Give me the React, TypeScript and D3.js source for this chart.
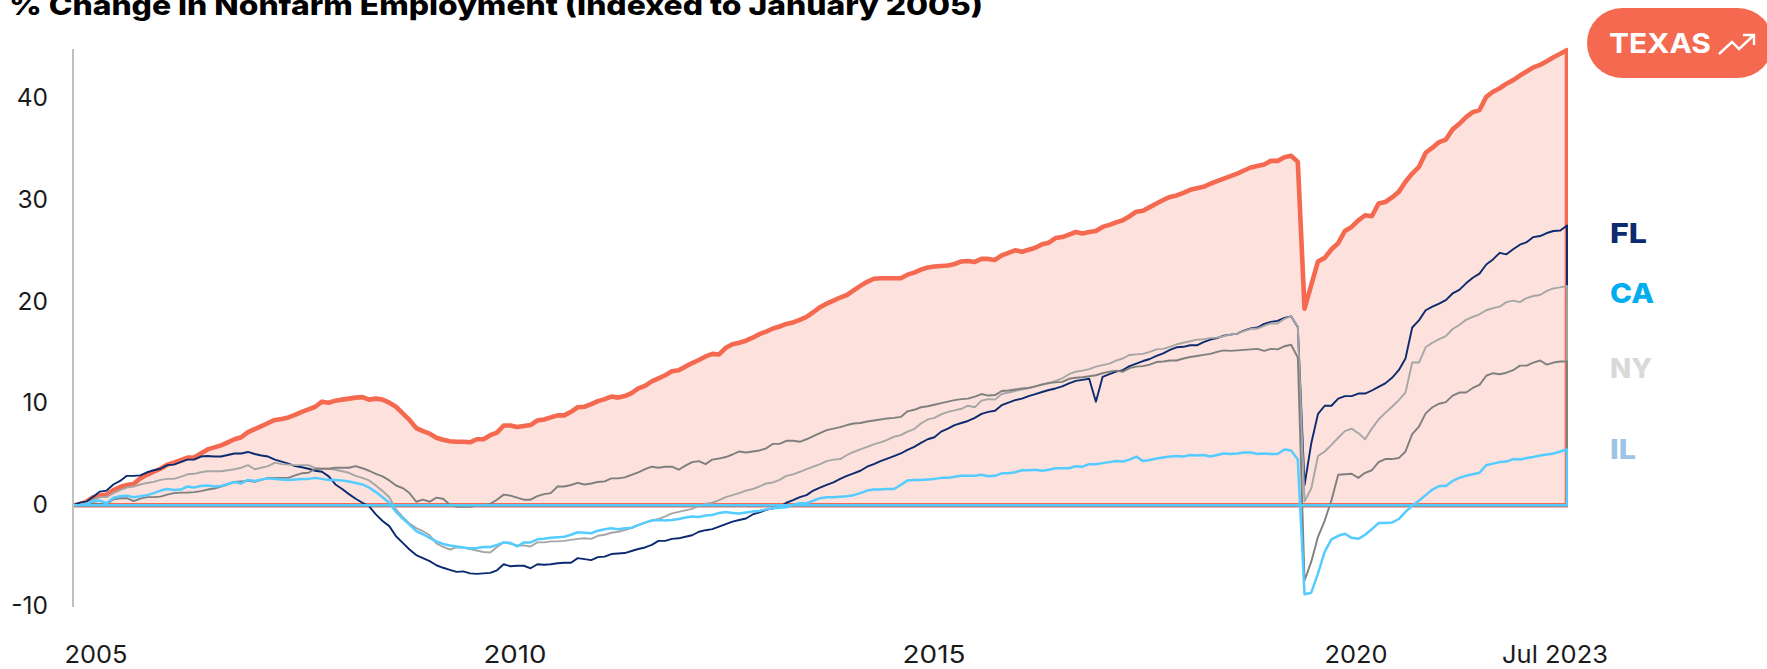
import React from "react";
import * as d3 from "d3";

const titleText = "% Change in Nonfarm Employment (Indexed to January 2005)";
const yTicks = [-10, 0, 10, 20, 30, 40];
const xLabels = ["2005", "2010", "2015", "2020", "Jul 2023"];

// Monthly values, January 2005 to July 2023, one row per year.
const texas = [
  0, 0.1, 0.35, 0.8, 0.95, 1.05, 1.5, 1.8, 2, 2.1, 2.65, 3,
  3.3, 3.6, 4, 4.2, 4.45, 4.7, 4.7, 5.1, 5.5, 5.7, 5.9, 6.2,
  6.5, 6.7, 7.2, 7.5, 7.8, 8.1, 8.4, 8.5, 8.65, 8.9, 9.2, 9.45,
  9.7, 10.2, 10.1, 10.3, 10.4, 10.5, 10.6, 10.65, 10.4, 10.5, 10.4, 10.1,
  9.7, 9.05, 8.4, 7.6, 7.3, 7.05, 6.65, 6.45, 6.3, 6.25, 6.25, 6.2,
  6.5, 6.5, 6.9, 7.15, 7.85, 7.85, 7.7, 7.8, 7.9, 8.35, 8.45, 8.65,
  8.85, 8.85, 9.2, 9.65, 9.7, 9.95, 10.25, 10.45, 10.7, 10.6, 10.75, 11.05,
  11.5, 11.75, 12.2, 12.5, 12.8, 13.2, 13.3, 13.65, 14, 14.3, 14.65, 14.9,
  14.85, 15.5, 15.85, 16, 16.2, 16.5, 16.85, 17.1, 17.4, 17.6, 17.85, 18,
  18.25, 18.55, 19, 19.5, 19.85, 20.15, 20.45, 20.7, 21.15, 21.6, 22, 22.3,
  22.35, 22.35, 22.35, 22.35, 22.7, 22.9, 23.2, 23.4, 23.5, 23.55, 23.6, 23.75,
  24, 24.05, 23.95, 24.25, 24.25, 24.15, 24.6, 24.85, 25.1, 24.95, 25.15, 25.35,
  25.7, 25.85, 26.3, 26.4, 26.65, 26.9, 26.75, 26.9, 27, 27.4, 27.6, 27.85,
  28.05, 28.45, 28.9, 29, 29.35, 29.7, 30.05, 30.35, 30.5, 30.75, 31.05, 31.2,
  31.35, 31.65, 31.9, 32.15, 32.4, 32.65, 32.95, 33.25, 33.4, 33.55, 33.9, 33.9,
  34.25, 34.4, 33.8, 19.35, 21.7, 24, 24.35, 25.2, 25.8, 27, 27.4, 28.05,
  28.55, 28.45, 29.7, 29.85, 30.3, 30.85, 31.85, 32.65, 33.3, 34.7, 35.2, 35.75,
  36, 37, 37.55, 38.2, 38.7, 38.9, 40.2, 40.7, 41.05, 41.5, 41.85, 42.3,
  42.7, 43.1, 43.35, 43.7, 44.1, 44.45, 44.8,
];

const florida = [
  0, 0.25, 0.35, 0.85, 1.35, 1.45, 2.05, 2.4, 2.9, 2.9, 2.95, 3.25,
  3.45, 3.6, 3.95, 4, 4.25, 4.5, 4.5, 4.8, 4.85, 4.8, 4.8, 4.95,
  5.1, 5.1, 5.25, 5.05, 4.9, 4.8, 4.5, 4.3, 4.1, 3.85, 3.75, 3.6,
  3.4, 3.3, 2.85, 2.05, 1.6, 1.1, 0.65, 0.25, -0.1, -0.9, -1.55, -2.05,
  -3.05, -3.7, -4.35, -4.9, -5.2, -5.5, -5.9, -6.15, -6.35, -6.55, -6.5, -6.7,
  -6.75, -6.7, -6.65, -6.4, -5.8, -6, -5.95, -5.95, -6.2, -5.8, -5.85, -5.8,
  -5.7, -5.65, -5.65, -5.2, -5.3, -5.4, -5.1, -5.05, -4.8, -4.75, -4.7, -4.5,
  -4.3, -4.15, -3.9, -3.5, -3.5, -3.3, -3.25, -3.1, -2.95, -2.6, -2.45, -2.35,
  -2.1, -1.85, -1.6, -1.45, -1.3, -0.9, -0.7, -0.45, -0.3, -0.15, 0.25, 0.5,
  0.8, 1, 1.45, 1.75, 2, 2.25, 2.6, 2.9, 3.15, 3.4, 3.8, 4.05,
  4.35, 4.6, 4.85, 5.1, 5.45, 5.75, 6.15, 6.5, 6.7, 7.25, 7.55, 7.9,
  8.1, 8.3, 8.6, 9, 9.2, 9.3, 9.85, 10.1, 10.35, 10.5, 10.75, 10.95,
  11.15, 11.35, 11.5, 11.7, 12, 12.25, 12.35, 12.45, 10.2, 12.65, 12.9, 13.15,
  13.3, 13.7, 13.95, 14.2, 14.4, 14.7, 14.95, 15.3, 15.55, 15.6, 15.75, 15.75,
  16.05, 16.3, 16.45, 16.7, 16.8, 16.9, 17.2, 17.4, 17.5, 17.85, 18.05, 18.15,
  18.45, 18.6, 17.55, 2, 6.1, 9, 9.8, 9.8, 10.5, 10.75, 10.75, 11,
  11, 11.3, 11.65, 12, 12.55, 13.3, 14.45, 17.5, 18.2, 19.2, 19.55, 19.85,
  20.2, 20.85, 21.2, 21.85, 22.4, 22.8, 23.7, 24.2, 24.85, 24.7, 25.2, 25.65,
  25.9, 26.4, 26.5, 26.8, 27, 27.05, 27.55,
];

const california = [
  0, 0.05, 0.2, 0.5, 0.8, 0.8, 1.2, 1.5, 1.75, 1.85, 2.05, 2.2,
  2.3, 2.5, 2.6, 2.6, 2.8, 3.05, 3.1, 3.25, 3.35, 3.35, 3.35, 3.45,
  3.55, 3.7, 3.95, 3.55, 3.7, 3.85, 4.2, 4.05, 4, 3.95, 3.95, 3.95,
  3.65, 3.6, 3.6, 3.5, 3.35, 3.2, 2.9, 2.7, 2.45, 1.95, 1.4, 0.8,
  -0.4, -1.15, -1.8, -2.25, -2.55, -2.95, -3.75, -4.1, -4.35, -4.15, -4.15, -4.3,
  -4.45, -4.6, -4.65, -4.1, -3.65, -3.8, -3.95, -3.95, -4.05, -3.65, -3.65, -3.55,
  -3.55, -3.5, -3.4, -3.3, -3.25, -3.3, -3, -2.9, -2.7, -2.6, -2.45, -2.25,
  -1.95, -1.7, -1.5, -1.35, -1.1, -0.8, -0.65, -0.5, -0.35, -0.05, 0.15, 0.25,
  0.5, 0.8, 1, 1.2, 1.45, 1.6, 1.85, 2.15, 2.25, 2.5, 2.9, 3.05,
  3.3, 3.55, 3.8, 4.05, 4.35, 4.5, 4.55, 4.95, 5.25, 5.5, 5.75, 6,
  6.2, 6.45, 6.75, 6.9, 7.25, 7.5, 8.05, 8.45, 8.6, 8.95, 9.2, 9.35,
  9.5, 9.8, 9.65, 10.3, 10.45, 10.4, 10.95, 11.1, 11.25, 11.4, 11.55, 11.7,
  11.85, 12, 12.25, 12.5, 12.9, 13.15, 13.25, 13.4, 13.65, 13.8, 13.95, 14.25,
  14.45, 14.8, 14.85, 14.9, 15.1, 15.35, 15.4, 15.6, 15.85, 16, 16.15, 16.3,
  16.35, 16.45, 16.5, 16.65, 16.8, 16.9, 17.15, 17.35, 17.4, 17.65, 17.9, 17.9,
  18.35, 18.6, 17.6, 0.4, 1.65, 4.85, 5.3, 5.95, 6.65, 7.3, 7.55, 7.1,
  6.5, 7.55, 8.45, 9.1, 9.7, 10.35, 11.1, 14.05, 14.05, 15.55, 16, 16.35,
  16.65, 17.35, 17.75, 18.25, 18.55, 18.8, 19.2, 19.4, 19.55, 20, 20.15, 20,
  20.4, 20.6, 20.7, 21.1, 21.35, 21.45, 21.6,
];

const newYork = [
  0, 0, 0.05, 0.2, 0.1, 0.1, 0.6, 0.7, 0.7, 0.4, 0.65, 0.8,
  0.8, 0.85, 1.05, 1.2, 1.25, 1.25, 1.3, 1.4, 1.55, 1.65, 1.85, 2.05,
  2.3, 2.35, 2.4, 2.3, 2.5, 2.7, 2.7, 2.7, 2.7, 2.95, 3.15, 3.2,
  3.6, 3.6, 3.6, 3.7, 3.7, 3.7, 3.85, 3.65, 3.4, 3.1, 2.85, 2.45,
  1.95, 1.7, 1.2, 0.35, 0.55, 0.35, 0.75, 0.65, 0.05, -0.15, -0.15, -0.15,
  -0.05, -0.05, 0.15, 0.55, 1.05, 0.95, 0.75, 0.55, 0.55, 0.9, 1.1, 1.2,
  1.85, 1.85, 2, 2.2, 2.05, 2.15, 2.3, 2.35, 2.65, 2.65, 2.75, 3,
  3.25, 3.55, 3.8, 3.7, 3.8, 3.8, 3.5, 3.9, 4.25, 4.35, 4.05, 4.5,
  4.6, 4.75, 5, 5.3, 5.2, 5.3, 5.4, 5.6, 6.05, 6.05, 6.35, 6.35,
  6.25, 6.5, 6.8, 7.1, 7.4, 7.55, 7.7, 7.9, 8.05, 8.1, 8.25, 8.35,
  8.45, 8.55, 8.6, 8.7, 9.25, 9.4, 9.65, 9.75, 9.9, 10.05, 10.2, 10.35,
  10.45, 10.5, 10.7, 10.95, 10.8, 10.85, 11.25, 11.3, 11.4, 11.5, 11.55, 11.7,
  11.9, 12.05, 12.1, 12.15, 12.45, 12.55, 12.6, 12.7, 12.8, 13, 13.15, 13.25,
  13.15, 13.5, 13.65, 13.7, 13.85, 14.1, 14.15, 14.25, 14.25, 14.45, 14.6, 14.7,
  14.8, 14.9, 15.1, 15.25, 15.2, 15.25, 15.3, 15.35, 15.4, 15.2, 15.4, 15.35,
  15.65, 15.8, 14.55, -7.4, -5.55, -3.1, -1.5, 0.5, 3, 3.05, 3.1, 2.7,
  3.2, 3.45, 4.25, 4.55, 4.55, 4.65, 5.3, 7, 7.75, 9.05, 9.65, 10,
  10.15, 10.8, 11.1, 11.1, 11.55, 11.85, 12.75, 13, 12.9, 13.05, 13.3, 13.75,
  13.75, 14.05, 14.25, 13.85, 14.05, 14.15, 14.15,
];

const illinois = [
  0, 0, 0.1, 0.45, 0.45, 0.2, 0.75, 0.9, 0.95, 0.8, 0.9, 1,
  1.2, 1.45, 1.6, 1.5, 1.55, 1.85, 1.75, 1.9, 1.95, 1.85, 1.9, 2.1,
  2.3, 2.15, 2.5, 2.4, 2.55, 2.65, 2.6, 2.55, 2.5, 2.55, 2.6, 2.6,
  2.7, 2.6, 2.5, 2.5, 2.45, 2.35, 2.2, 2.05, 1.75, 1.3, 0.8, 0.25,
  -0.65, -1.3, -1.9, -2.55, -2.85, -3.2, -3.55, -3.8, -3.95, -4.05, -4.15, -4.25,
  -4.2, -4.1, -4.1, -3.9, -3.65, -3.7, -4.05, -3.65, -3.65, -3.35, -3.3, -3.2,
  -3.15, -3.1, -2.9, -2.65, -2.7, -2.75, -2.5, -2.35, -2.25, -2.35, -2.25, -2.2,
  -1.95, -1.7, -1.5, -1.45, -1.5, -1.45, -1.35, -1.2, -1.1, -1.15, -1, -0.95,
  -0.75, -0.65, -0.75, -0.8, -0.7, -0.6, -0.55, -0.4, -0.3, -0.25, -0.2, 0.05,
  0.2, 0.2, 0.45, 0.7, 0.8, 0.8, 0.85, 0.9, 1, 1.2, 1.45, 1.55,
  1.55, 1.6, 1.6, 2, 2.45, 2.5, 2.5, 2.55, 2.6, 2.7, 2.7, 2.8,
  2.9, 2.9, 2.9, 3, 2.85, 2.9, 3.15, 3.15, 3.25, 3.45, 3.45, 3.5,
  3.4, 3.5, 3.65, 3.65, 3.65, 3.85, 3.8, 4.05, 4.05, 4.15, 4.25, 4.35,
  4.3, 4.5, 4.8, 4.35, 4.45, 4.6, 4.7, 4.8, 4.85, 4.8, 4.95, 4.9,
  4.95, 4.8, 4.95, 5.1, 5.05, 5.1, 5.2, 5.2, 5.05, 5.1, 5.05, 5.05,
  5.5, 5.4, 4.5, -8.75, -8.6, -6.7, -4.55, -3.35, -3, -2.8, -3.2, -3.3,
  -2.9, -2.35, -1.75, -1.75, -1.7, -1.35, -0.65, -0.05, 0.45, 1, 1.55, 1.9,
  1.9, 2.4, 2.7, 2.9, 3.05, 3.2, 3.95, 4.1, 4.25, 4.3, 4.55, 4.5,
  4.65, 4.75, 4.9, 5, 5.1, 5.3, 5.5,
];

const sideLabels = ["FL", "CA", "NY", "IL"];
const badgeText = "TEXAS";

export default function App() {
  const W = 1767;
  const H = 669;
  const font = "Inter, 'Open Sans', sans-serif";

  const x = d3.scaleLinear().domain([0, 222]).range([73, 1567]);
  const y = d3.scaleLinear().domain([-10, 45]).range([606.9, 48.1]);

  const area = d3
    .area<number>()
    .x((_, i) => x(i))
    .y0(y(0))
    .y1((d) => y(d));

  const series = [
    { key: "TX", values: texas, stroke: "#F4694F", width: 4.6, fill: "#FCE1DC" },
    { key: "FL", values: florida, stroke: "#0B2A6F", width: 1.9, fill: "none" },
    { key: "CA", values: california, stroke: "#A6A6A6", width: 1.9, fill: "none" },
    { key: "NY", values: newYork, stroke: "#7F7F7F", width: 1.9, fill: "none" },
    { key: "IL", values: illinois, stroke: "#55CCFF", width: 2.5, fill: "none" },
  ];

  const xLabelCenters = [96, 515, 934, 1356, 1555];
  const xLabelWidths = [63, 63, 63, 63, 106];
  const sideStyles = [
    { color: "#0B2A6F", y: 243, w: 37 },
    { color: "#00AEEF", y: 303, w: 44 },
    { color: "#D9D9D9", y: 378, w: 42 },
    { color: "#9DC3E6", y: 459, w: 26 },
  ];

  return (
    <svg
      width={W}
      height={H}
      viewBox={`0 0 ${W} ${H}`}
      style={{ position: "absolute", left: 0, top: 0, background: "#fff" }}
    >
      <defs>
        <clipPath id="plot-clip">
          <rect x={73} y={40} width={1495} height={580} />
        </clipPath>
      </defs>
      <text
        x={9}
        y={15}
        fontFamily={font}
        fontWeight={800}
        fontSize={27}
        fill="#000"
        textLength={974}
        lengthAdjust="spacingAndGlyphs"
      >
        {titleText}
      </text>

      {yTicks.map((t) => (
        <text
          key={t}
          x={48}
          y={y(t) + 7.5}
          textAnchor="end"
          fontFamily={font}
          fontSize={24.5}
          fill="#1a1a1a"
        >
          {t}
        </text>
      ))}

      <g clipPath="url(#plot-clip)">
        {series.map((s) => (
          <path
            key={s.key}
            d={area(s.values) ?? ""}
            fill={s.fill}
            stroke={s.stroke}
            strokeWidth={s.width}
            strokeLinejoin="round"
          />
        ))}
      </g>

      <line x1={73} x2={73} y1={49} y2={607} stroke="#BFBFBF" strokeWidth={2} />

      {xLabels.map((l, i) => (
        <text
          key={l}
          x={xLabelCenters[i]}
          y={663}
          textAnchor="middle"
          fontFamily={font}
          fontSize={24.5}
          fill="#1a1a1a"
          textLength={xLabelWidths[i]}
          lengthAdjust="spacingAndGlyphs"
        >
          {l}
        </text>
      ))}

      <rect x={1587} y={8} width={186} height={70} rx={35} ry={35} fill="#F4694F" />
      <text
        x={1609}
        y={53}
        fontFamily={font}
        fontWeight={700}
        fontSize={27.5}
        fill="#fff"
        textLength={102}
        lengthAdjust="spacingAndGlyphs"
      >
        {badgeText}
      </text>
      <path
        d="M1719 54 L1732 42 L1739 49 L1754 35 M1743 35 L1754 35 L1754 45"
        fill="none"
        stroke="#fff"
        strokeWidth={2.4}
      />

      {sideLabels.map((l, i) => (
        <text
          key={l}
          x={1610}
          y={sideStyles[i].y}
          fontFamily={font}
          fontWeight={800}
          fontSize={27.5}
          fill={sideStyles[i].color}
          textLength={sideStyles[i].w}
          lengthAdjust="spacingAndGlyphs"
        >
          {l}
        </text>
      ))}
    </svg>
  );
}
